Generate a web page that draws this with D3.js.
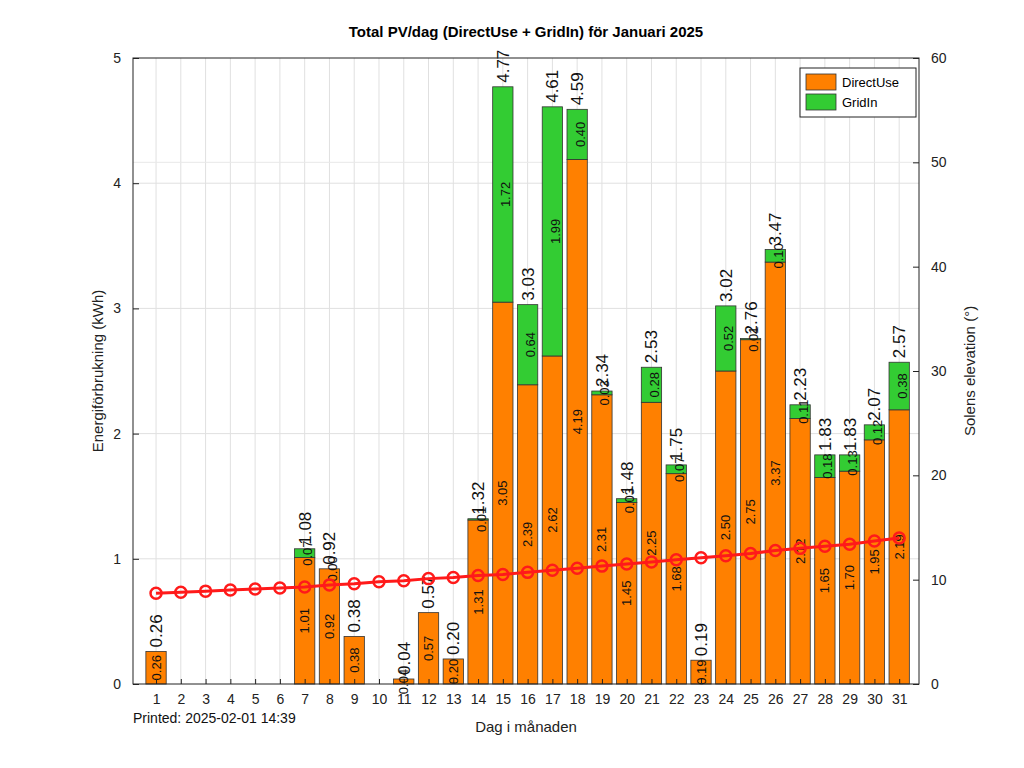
<!DOCTYPE html>
<html><head><meta charset="utf-8">
<script src="https://cdn.jsdelivr.net/npm/d3@7"></script>
<style>body{margin:0;background:#fff}text{font-family:"Liberation Sans",Arial,sans-serif}</style>
</head><body><svg width="1024" height="768"></svg>
<script>
const days = d3.range(1, 32);
const directUse = [0.26,0,0,0,0,0,1.01,0.92,0.38,0,0.04,0.57,0.20,1.31,3.05,2.39,2.62,4.19,2.31,1.45,2.25,1.68,0.19,2.50,2.75,3.37,2.12,1.65,1.70,1.95,2.19];
const gridIn = [0,0,0,0,0,0,0.07,0.00,0,0,0,0,0,0.01,1.72,0.64,1.99,0.40,0.03,0.03,0.28,0.07,0,0.52,0.01,0.10,0.11,0.18,0.13,0.12,0.38];
const elevation = [8.7,8.8,8.9,9.0,9.1,9.2,9.3,9.5,9.6,9.8,9.9,10.1,10.2,10.4,10.5,10.7,10.9,11.1,11.3,11.5,11.7,11.9,12.1,12.3,12.5,12.8,13.0,13.2,13.4,13.7,14.0];

const svg = d3.select('svg');
const L = 133, R = 919, T = 58, B = 684;

const x = d3.scaleLinear().domain([0.07, 31.8]).range([L, R]);
const y = d3.scaleLinear().domain([0, 5]).range([B, T]);
const y2 = d3.scaleLinear().domain([0, 60]).range([B, T]);
const bw = x(0.82) - x(0);

// grid
svg.append('g').selectAll('line').data(days).join('line')
    .attr('x1', d => x(d)).attr('x2', d => x(d)).attr('y1', T).attr('y2', B)
    .attr('stroke', '#e0e0e0');
svg.append('g').selectAll('line').data(d3.range(1, 5)).join('line')
    .attr('x1', L).attr('x2', R).attr('y1', d => y(d)).attr('y2', d => y(d))
    .attr('stroke', '#e0e0e0');
svg.append('line').attr('x1', L).attr('x2', R).attr('y1', y2(50)).attr('y2', y2(50)).attr('stroke', '#e8e8e8');

// bars
const bars = svg.append('g');
days.forEach((d, i) => {
    const du = directUse[i], gi = gridIn[i];
    if (du > 0) bars.append('rect').attr('x', x(d) - bw / 2).attr('width', bw)
        .attr('y', y(du)).attr('height', y(0) - y(du))
        .attr('fill', '#ff8000').attr('stroke', '#333').attr('stroke-width', 0.8);
    if (gi > 0 || (du > 0 && i === 7)) bars.append('rect').attr('x', x(d) - bw / 2).attr('width', bw)
        .attr('y', y(du + gi)).attr('height', y(du) - y(du + gi))
        .attr('fill', '#33cc33').attr('stroke', '#333').attr('stroke-width', 0.8);
});

// labels
const lab = svg.append('g');
function vtext(px, py, t, size, anchor) {
    lab.append('text').attr('transform', `translate(${px},${py}) rotate(-90)`)
        .attr('text-anchor', anchor).attr('dy', '0.35em')
        .attr('font-size', size).attr('fill', '#111').text(t);
}
days.forEach((d, i) => {
    const du = directUse[i], gi = gridIn[i], tot = du + gi;
    if (tot <= 0) return;
    vtext(x(d), y(du / 2), du.toFixed(2), 13, 'middle');
    if (gi > 0 || i === 7) vtext(x(d) + 3, y(du + gi / 2), gi.toFixed(2), 13, 'middle');
    vtext(x(d), y(tot) - 4, tot.toFixed(2), 17, 'start');
});

// elevation line
svg.append('path').datum(elevation)
    .attr('d', d3.line().x((v, i) => x(days[i])).y(v => y2(v)))
    .attr('fill', 'none').attr('stroke', '#ff1a1a').attr('stroke-width', 3);
svg.append('g').selectAll('circle').data(elevation).join('circle')
    .attr('cx', (v, i) => x(days[i])).attr('cy', v => y2(v)).attr('r', 5.5)
    .attr('fill', 'none').attr('stroke', '#ff1a1a').attr('stroke-width', 2.5);

// frame and axes
svg.append('rect').attr('x', L).attr('y', T).attr('width', R - L).attr('height', B - T)
    .attr('fill', 'none').attr('stroke', '#222');
const ax = svg.append('g').attr('transform', `translate(0,${B})`)
    .call(d3.axisBottom(x).tickValues(days).tickSize(5).tickSizeOuter(0));
const ayl = svg.append('g').attr('transform', `translate(${L},0)`)
    .call(d3.axisLeft(y).ticks(5).tickSize(-6).tickSizeOuter(0));
const ayr = svg.append('g').attr('transform', `translate(${R},0)`)
    .call(d3.axisRight(y2).tickValues(d3.range(0, 61, 10)).tickSize(-6).tickSizeOuter(0));
ax.selectAll('line').attr('y2', -5);
[ax, ayl, ayr].forEach(g => {
    g.select('.domain').remove();
    g.selectAll('text').attr('font-size', 14).attr('fill', '#222').style('font-family', '"Liberation Sans",Arial,sans-serif');
    g.selectAll('line').attr('stroke', '#222');
});
ayl.selectAll('text').attr('x', -12);
ayr.selectAll('text').attr('x', 12);
ax.selectAll('text').attr('y', 10);

// titles
svg.append('text').attr('x', 526).attr('y', 37).attr('text-anchor', 'middle')
    .attr('font-size', 15).attr('font-weight', 'bold').text('Total PV/dag (DirectUse + GridIn) för Januari 2025');
svg.append('text').attr('x', 526).attr('y', 732).attr('text-anchor', 'middle')
    .attr('font-size', 15).attr('fill', '#222').text('Dag i månaden');
svg.append('text').attr('transform', 'translate(103,371) rotate(-90)').attr('text-anchor', 'middle')
    .attr('font-size', 15).attr('fill', '#222').text('Energiförbrukning (kWh)');
svg.append('text').attr('transform', 'translate(975,371) rotate(-90)').attr('text-anchor', 'middle')
    .attr('font-size', 15).attr('fill', '#222').text('Solens elevation (°)');
svg.append('text').attr('x', 133).attr('y', 723).attr('font-size', 14).attr('fill', '#111')
    .text('Printed: 2025-02-01 14:39');

// legend
const lg = svg.append('g').attr('transform', 'translate(800,68)');
lg.append('rect').attr('width', 116).attr('height', 49).attr('fill', '#fff').attr('stroke', '#222');
[['DirectUse', '#ff8000'], ['GridIn', '#33cc33']].forEach(([n, c], i) => {
    lg.append('rect').attr('x', 6).attr('y', 6 + i * 20).attr('width', 30).attr('height', 16)
        .attr('fill', c).attr('stroke', '#333').attr('stroke-width', 0.8);
    lg.append('text').attr('x', 42).attr('y', 19 + i * 20).attr('font-size', 13).text(n);
});
</script></body></html>
